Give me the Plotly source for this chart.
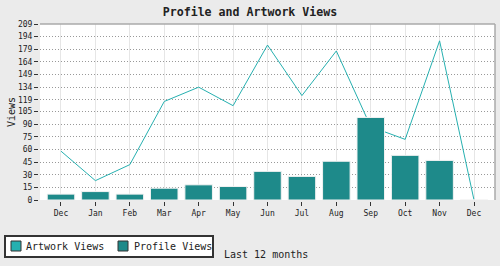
import plotly.graph_objects as go

months = ["Dec", "Jan", "Feb", "Mar", "Apr", "May", "Jun", "Jul", "Aug", "Sep", "Oct", "Nov", "Dec"]
artwork_views = [58, 23, 42, 117, 134, 112, 184, 124, 177, 87, 72, 189, 0]
profile_views = [7, 10, 7, 14, 18, 16, 34, 28, 46, 98, 53, 47, 0]
y_tick_labels = ["0", "15", "30", "45", "60", "75", "90", "105", "119", "134",
                 "149", "164", "179", "194", "209"]
series_names = ["Artwork Views", "Profile Views"]

LINE_COLOR = "#26b0b0"
BAR_COLOR = "#1e8a8a"
FONT = "DejaVu Sans Mono"

x_idx = list(range(len(months)))

# plot area geometry in pixels
W, H = 500, 266
ML, MR, MT, MB = 40, 5, 24, 66
PW, PH = W - ML - MR, H - MT - MB


def px(x):
    return (x - ML) / PW


def py(y):
    return (H - MB - y) / PH


fig = go.Figure()
fig.add_trace(go.Scatter(
    x=x_idx, y=artwork_views, mode="lines", name=series_names[0],
    line=dict(color=LINE_COLOR, width=1), zorder=0, showlegend=False,
))
fig.add_trace(go.Bar(
    x=x_idx, y=profile_views, name=series_names[1],
    marker=dict(color=BAR_COLOR, line=dict(color="#f2f2f2", width=1)),
    zorder=1, showlegend=False,
))

shapes = [
    # top and right frame
    dict(type="line", xref="paper", yref="paper", x0=0, x1=1, y0=1, y1=1,
         line=dict(color="#aaaaaa", width=1.5), layer="above"),
    dict(type="line", xref="paper", yref="paper", x0=1, x1=1, y0=0, y1=1,
         line=dict(color="#aaaaaa", width=1.5), layer="above"),
    # legend box
    dict(type="rect", xref="paper", yref="paper", x0=px(5), x1=px(213), y0=py(236), y1=py(257),
         fillcolor="white", line=dict(color="#333333", width=2), layer="above"),
    dict(type="rect", xref="paper", yref="paper", x0=px(11), x1=px(21), y0=py(241), y1=py(251),
         fillcolor=LINE_COLOR, line=dict(color="#333333", width=1), layer="above"),
    dict(type="rect", xref="paper", yref="paper", x0=px(118), x1=px(128), y0=py(241), y1=py(251),
         fillcolor=BAR_COLOR, line=dict(color="#333333", width=1), layer="above"),
]

annotations = [
    dict(text=series_names[0], xref="paper", yref="paper", x=px(24), y=py(246.5),
         xanchor="left", yanchor="middle", showarrow=False,
         font=dict(family=FONT, size=10, color="#222222")),
    dict(text=series_names[1], xref="paper", yref="paper", x=px(131.5), y=py(246.5),
         xanchor="left", yanchor="middle", showarrow=False,
         font=dict(family=FONT, size=10, color="#222222")),
    dict(text="Last 12 months", xref="paper", yref="paper", x=px(266), y=py(254.5),
         xanchor="center", yanchor="middle", showarrow=False,
         font=dict(family=FONT, size=10, color="#222222")),
]

fig.update_layout(
    width=W, height=H,
    margin=dict(l=ML, r=MR, t=MT, b=MB, pad=0),
    paper_bgcolor="#ebebeb", plot_bgcolor="white",
    font=dict(family=FONT, size=8, color="#222222"),
    title=dict(text="<b>Profile and Artwork Views</b>", x=0.5, xref="container",
               y=1 - 12 / H, yref="container", yanchor="middle",
               font=dict(family=FONT, size=11.6, color="#222222")),
    bargap=0.2,
    showlegend=False,
    shapes=shapes,
    annotations=annotations,
)

fig.update_xaxes(
    range=[-0.61, len(months) - 1 + 0.61],
    tickmode="array", tickvals=x_idx, ticktext=months,
    showgrid=True, gridcolor="#e6e6e6", gridwidth=1,
    showline=True, linecolor="#333333", linewidth=2,
    ticks="outside", ticklen=4, tickwidth=1, tickcolor="#333333",
    tickfont=dict(family=FONT, size=8, color="#222222"),
    zeroline=False, fixedrange=True,
)
fig.update_yaxes(
    range=[0, 209],
    tickmode="array", tickvals=[int(v) for v in y_tick_labels], ticktext=y_tick_labels,
    showgrid=True, gridcolor="#999999", gridwidth=1, griddash="1px,2px",
    showline=True, linecolor="#333333", linewidth=2,
    ticks="outside", ticklen=4, tickwidth=1, tickcolor="#333333",
    tickfont=dict(family=FONT, size=8, color="#222222"),
    title=dict(text="Views", font=dict(family=FONT, size=10, color="#222222"), standoff=0),
    zeroline=False, fixedrange=True,
)

fig.write_html("out.html")
